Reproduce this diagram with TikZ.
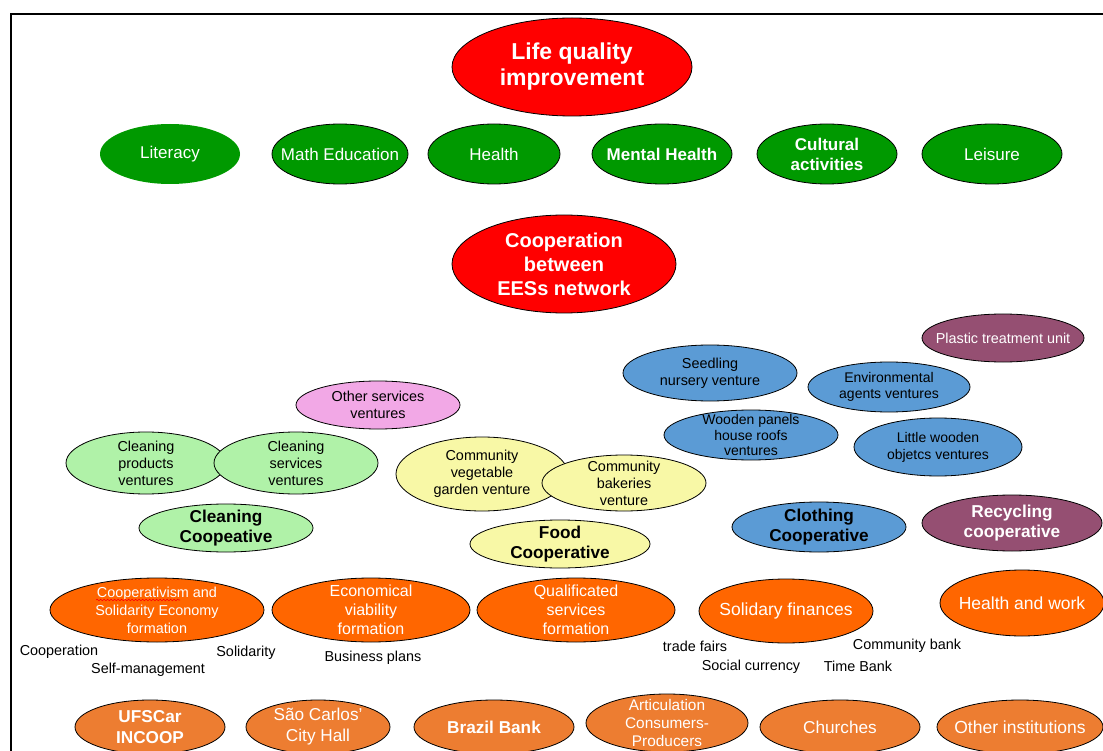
\documentclass[tikz,border=0pt]{standalone}
\usepackage{fontspec}
\setmainfont{Liberation Sans}
\usetikzlibrary{shapes.geometric,decorations.pathmorphing}

\definecolor{lqred}{HTML}{FF0000}
\definecolor{areagreen}{HTML}{009900}
\definecolor{cleangreen}{HTML}{B0F2A8}
\definecolor{servpink}{HTML}{F2A8E6}
\definecolor{foodyellow}{HTML}{F8F8A6}
\definecolor{clothblue}{HTML}{5B9BD5}
\definecolor{recmauve}{HTML}{954F72}
\definecolor{formorange}{HTML}{FF6600}
\definecolor{instorange}{HTML}{ED7D31}

\tikzset{
  % negative inner sep keeps every ellipse at its given minimum size
  bub/.style={ellipse, draw=black, line width=0.8pt, inner sep=-25pt, align=center},
  goal/.style={bub, fill=lqred, text=white, font=\fontsize{23}{26}\selectfont\bfseries},
  area/.style={bub, fill=areagreen, text=white, minimum height=60pt, font=\fontsize{17}{20}\selectfont},
  venture/.style={bub, font=\fontsize{14.4}{17}\selectfont},
  coop/.style={bub, font=\fontsize{17.2}{20}\selectfont\bfseries},
  form/.style={bub, fill=formorange, text=white, minimum height=64pt},
  inst/.style={bub, fill=instorange, text=white, minimum height=54pt, font=\fontsize{17.2}{21}\selectfont},
  topic/.style={inner sep=0pt, font=\fontsize{14.4}{17}\selectfont},
}

\begin{document}
\begin{tikzpicture}[x=1pt, y=-1pt]
\clip (0,0) rectangle (1103,751);
\fill[white] (0,0) rectangle (1103,751);
\draw[line width=2pt] (11,760) -- (11,14) -- (1110,14);

% overall goal
\node[goal, minimum width=240pt, minimum height=98pt] (life) at (572,67) {Life quality\\improvement};

% life quality areas
\node[area, draw=none, minimum width=140pt] (literacy) at (170,154) {Literacy};
\node[area, minimum width=136pt] (math) at (340,154) {Math Education};
\node[area, minimum width=132pt] (health) at (494,154) {Health};
\node[area, minimum width=140pt, font=\fontsize{17}{20}\selectfont\bfseries] (mental) at (662,154) {Mental Health};
\node[area, minimum width=140pt, font=\fontsize{17}{20}\selectfont\bfseries] (cultural) at (827,154) {Cultural\\activities};
\node[area, minimum width=140pt] (leisure) at (992,154) {Leisure};

% network
\node[goal, minimum width=224pt, minimum height=98pt, font=\fontsize{20}{24}\selectfont\bfseries] (network) at (564,264) {Cooperation\\between\\EESs network};

% ventures
\node[venture, fill=recmauve, text=white, minimum width=162pt, minimum height=48pt] (plastic) at (1003,338) {Plastic treatment unit};
\node[venture, fill=clothblue, minimum width=174pt, minimum height=56pt] (seedling) at (710,373) {Seedling\\nursery venture};
\node[venture, fill=clothblue, minimum width=162pt, minimum height=50pt, font=\fontsize{14}{16.5}\selectfont] (envagents) at (889,387) {Environmental\\agents ventures};
\node[venture, fill=servpink, minimum width=164pt, minimum height=48pt] (otherserv) at (378,405) {Other services\\ventures};
\node[venture, fill=clothblue, minimum width=174pt, minimum height=50pt, font=\fontsize{14}{15.5}\selectfont] (wooden) at (751,435) {Wooden panels\\house roofs\\ventures};
\node[venture, fill=clothblue, minimum width=168pt, minimum height=58pt, font=\fontsize{14}{17}\selectfont] (littlewood) at (938,447) {Little wooden\\objetcs ventures};
\node[venture, fill=cleangreen, minimum width=160pt, minimum height=62pt] (cleanprod) at (146,463) {Cleaning\\products\\ventures};
\node[venture, fill=cleangreen, minimum width=164pt, minimum height=62pt] (cleanserv) at (296,463) {Cleaning\\services\\ventures};
\node[venture, fill=foodyellow, minimum width=172pt, minimum height=74pt] (garden) at (482,474) {Community\\vegetable\\garden venture};
\node[venture, fill=foodyellow, minimum width=164pt, minimum height=56pt] (bakeries) at (624,483) {Community\\bakeries\\venture};

% cooperatives
\node[coop, fill=cleangreen, minimum width=174pt, minimum height=48pt] (cleancoop) at (226,528) {Cleaning\\Coopeative};
\node[coop, fill=foodyellow, minimum width=180pt, minimum height=48pt] (foodcoop) at (560,544) {Food\\Cooperative};
\node[coop, fill=clothblue, minimum width=174pt, minimum height=50pt] (clothcoop) at (819,527) {Clothing\\Cooperative};
\node[coop, fill=recmauve, text=white, minimum width=180pt, minimum height=56pt] (reccoop) at (1012,523) {Recycling\\cooperative};

% formation themes
\node[form, minimum width=214pt, font=\fontsize{14.4}{18}\selectfont] (coopform) at (157,610) {Cooperativism and\\Solidarity Economy\\formation};
\draw[red, line width=0.6pt, decorate, decoration={snake, amplitude=0.8pt, segment length=3.5pt}]
  ([xshift=-61pt, yshift=10pt]coopform.center) -- ([xshift=23pt, yshift=10pt]coopform.center);
\node[form, minimum width=198pt, font=\fontsize{16}{19}\selectfont] (econform) at (371,610) {Economical\\viability\\formation};
\node[form, minimum width=198pt, font=\fontsize{16}{19}\selectfont] (qualform) at (576,610) {Qualificated\\services\\formation};
\node[form, minimum width=174pt, font=\fontsize{17.5}{20}\selectfont] (finances) at (786,611) {Solidary finances};
\node[form, minimum width=164pt, minimum height=66pt, font=\fontsize{17.5}{20}\selectfont] (healthwork) at (1022,603) {Health and work};

% topics under the themes
\node[topic] (tcoop) at (59,652) {Cooperation};
\node[topic] (tself) at (148,670) {Self-management};
\node[topic] (tsolid) at (246,653) {Solidarity};
\node[topic] (tbiz) at (373,658) {Business plans};
\node[topic] (tfairs) at (695,646) {trade fairs};
\node[topic] (tcurr) at (751,667) {Social currency};
\node[topic] (ttime) at (858,666) {Time Bank};
\node[topic] (tcbank) at (907,646) {Community bank};

% partner institutions
\node[inst, minimum width=150pt, font=\fontsize{17.2}{21}\selectfont\bfseries] (ufscar) at (150,727) {UFSCar\\INCOOP};
\node[inst, minimum width=144pt] (cityhall) at (318,727) {São Carlos'\\City Hall};
\node[inst, minimum width=160pt, font=\fontsize{17.2}{21}\selectfont\bfseries] (brazilbank) at (494,727) {Brazil Bank};
\node[inst, minimum width=162pt, minimum height=58pt, font=\fontsize{15.4}{18}\selectfont] (articul) at (667,723) {Articulation\\Consumers-\\Producers};
\node[inst, minimum width=160pt] (churches) at (840,727) {Churches};
\node[inst, minimum width=166pt, font=\fontsize{17.5}{21}\selectfont] (otherinst) at (1020,727) {Other institutions};
\end{tikzpicture}
\end{document}
